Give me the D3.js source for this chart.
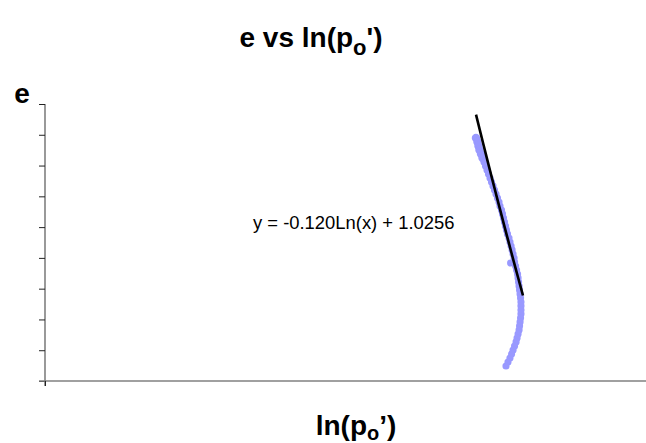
<!DOCTYPE html>
<html>
<head>
<meta charset="utf-8">
<script src="https://cdn.jsdelivr.net/npm/d3@7"></script>
<style>
  html, body { margin: 0; padding: 0; background: #fff; }
  svg { display: block; font-family: Arial, "Liberation Sans", sans-serif; }
</style>
</head>
<body>
<svg id="chart" width="646" height="443"></svg>
<script>
// ---- data (x = ln(p_o'), y = void ratio e) ----
const lnP = [5.177,5.195,5.207,5.219,5.238,5.256,5.274,5.292,5.310,5.328,5.346,5.364,5.382,5.400,5.418,5.436,5.454,5.466,5.484,5.496,5.508,5.520,5.532,5.544,5.556,5.574,5.586,5.599,5.611,5.623,5.635,5.641,5.594,5.653,5.665,5.677,5.683,5.689,5.695,5.701,5.707,5.713,5.718,5.718,5.718,5.718,5.713,5.707,5.701,5.695,5.683,5.671,5.659,5.641,5.623,5.605,5.586,5.562,5.538];
const eVal = [0.82667,0.82639,0.82612,0.82585,0.82557,0.82530,0.82502,0.82475,0.82447,0.82420,0.82392,0.82365,0.82338,0.82310,0.82283,0.82255,0.82228,0.82200,0.82173,0.82146,0.82118,0.82091,0.82063,0.82036,0.82008,0.81981,0.81953,0.81926,0.81899,0.81871,0.81844,0.81816,0.81809,0.81789,0.81761,0.81734,0.81707,0.81679,0.81652,0.81624,0.81597,0.81569,0.81542,0.81515,0.81487,0.81460,0.81432,0.81405,0.81377,0.81350,0.81322,0.81295,0.81268,0.81240,0.81213,0.81185,0.81158,0.81130,0.81103];
// trendline: e = a*ln(x) + b
const trendA = -0.120;
const trendB = 1.0256;
const trendRange = [5.178, 5.742];
const xDomain = [0, 7.22];
const yDomain = [0.81, 0.829];
const yTicks = d3.range(0, 10).map(i => 0.81 + i * 0.019 / 9);
const xTicks = [0];

const svg = d3.select("#chart");
const margin = {left: 45, right: 0, top: 104, bottom: 62};
const W = 646, H = 443;

const x = d3.scaleLinear().domain(xDomain).range([margin.left, W - margin.right]);
const y = d3.scaleLinear().domain(yDomain).range([H - margin.bottom, margin.top]);

// axes
const yAxis = d3.axisLeft(y).tickValues(yTicks).tickSize(6).tickFormat("");
const xAxis = d3.axisBottom(x).tickValues(xTicks).tickSize(5).tickFormat("");

const gy = svg.append("g").attr("transform", `translate(${margin.left},0)`).call(yAxis);
const gx = svg.append("g").attr("transform", `translate(0,${H - margin.bottom})`).call(xAxis);
[gx, gy].forEach(g => {
  g.select(".domain").attr("stroke", "#808080").attr("stroke-width", 1.6);
  g.selectAll(".tick line").attr("stroke", "#222").attr("stroke-width", 1);
});
gy.select(".domain").attr("d", `M0,${margin.top}V${H - margin.bottom + 5}`);
gx.select(".domain").attr("d", `M${margin.left - 6},0H${W}`);

// data points
const pts = lnP.map((v, i) => [v, eVal[i]]);
svg.append("g").selectAll("path").data(pts).join("path")
  .attr("transform", d => `translate(${x(d[0])},${y(d[1])})`)
  .attr("d", (d, i) => d3.symbol(d3.symbolCircle, i < 6 ? 55 : 40)())
  .attr("fill", "#9999ff");

// trendline
const tl = d3.range(0, 21).map(i => {
  const xv = trendRange[0] + (trendRange[1] - trendRange[0]) * i / 20;
  return [xv, trendA * Math.log(xv) + trendB];
});
svg.append("path").datum(tl)
  .attr("d", d3.line().x(d => x(d[0])).y(d => y(d[1])))
  .attr("fill", "none").attr("stroke", "#000").attr("stroke-width", 2.6);

// equation label
svg.append("text").attr("x", 253).attr("y", 229)
  .attr("font-size", 18.4).attr("fill", "#000")
  .text("y = -0.120Ln(x) + 1.0256");

// title
const title = svg.append("text").attr("x", 311).attr("y", 47)
  .attr("text-anchor", "middle").attr("font-size", 28).attr("font-weight", "bold");
title.append("tspan").text("e vs ln(p");
title.append("tspan").attr("dy", 8).attr("font-size", 22).text("o");
title.append("tspan").attr("dy", -8).text("')");

// y label
svg.append("text").attr("x", 22).attr("y", 103).attr("text-anchor", "middle")
  .attr("font-size", 28).attr("font-weight", "bold").text("e");

// x label
const xl = svg.append("text").attr("x", 356).attr("y", 435)
  .attr("text-anchor", "middle").attr("font-size", 28).attr("font-weight", "bold");
xl.append("tspan").text("ln(p");
xl.append("tspan").attr("dy", 5).attr("font-size", 20).text("o");
xl.append("tspan").attr("dy", -5).text("’)");
</script>
</body>
</html>
